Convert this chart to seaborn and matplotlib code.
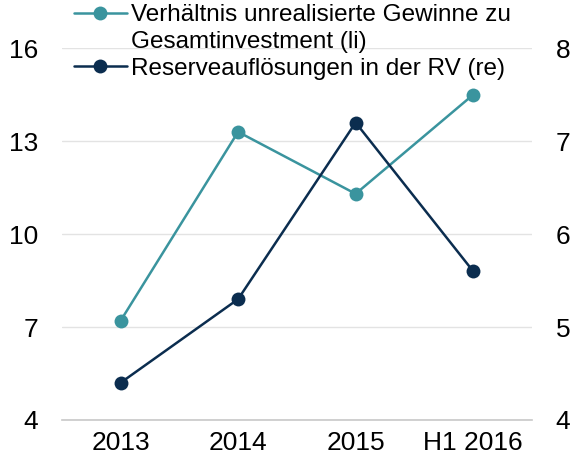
import matplotlib
matplotlib.use("Agg")
import matplotlib.pyplot as plt
from matplotlib.lines import Line2D
import seaborn as sns
import pandas as pd

categories = ["2013", "2014", "2015", "H1 2016"]
ratio_values = [7.2, 13.3, 11.3, 14.5]
reserve_values = [4.4, 5.3, 7.2, 5.6]
label_ratio_1 = "Verhältnis unrealisierte Gewinne zu"
label_ratio_2 = "Gesamtinvestment (li)"
label_reserve = "Reserveauflösungen in der RV (re)"
left_ticks = [4, 7, 10, 13, 16]
right_ticks = [4, 5, 6, 7, 8]

sns.set_theme(style="white")
plt.rcParams['font.family'] = ['Liberation Sans', 'DejaVu Sans']
plt.rcParams['text.color'] = 'black'

teal = "#3a949e"
navy = "#0b2d4f"
FS = 19
LFS = 17.5

df = pd.DataFrame({"cat": categories, "ratio": ratio_values, "reserve": reserve_values})
df["x"] = range(len(categories))

fig = plt.figure(figsize=(5.72, 4.55), dpi=100)
ax = fig.add_axes([0.108, 0.077, 0.822, 0.817])
ax2 = ax.twinx()

sns.lineplot(data=df, x="x", y="ratio", ax=ax, color=teal, marker="o",
             markersize=10, linewidth=1.8, markeredgewidth=0, legend=False)
sns.lineplot(data=df, x="x", y="reserve", ax=ax2, color=navy, marker="o",
             markersize=10, linewidth=1.8, markeredgewidth=0, legend=False)

ax.set_xlim(-0.5, 3.5)
ax.set_ylim(4, 16)
ax2.set_ylim(4, 8)
ax.set_yticks(left_ticks)
ax2.set_yticks(right_ticks)
ax.set_xticks(range(len(categories)))
ax.set_xticklabels(categories)
ax.set_xlabel("")
ax.set_ylabel("")
ax2.set_ylabel("")

for a in (ax, ax2):
    for s in a.spines.values():
        s.set_visible(False)
ax.spines["bottom"].set_visible(True)
ax.spines["bottom"].set_color("#c8c8c8")
ax.spines["bottom"].set_linewidth(1.2)

ax.yaxis.grid(True, color="#e3e3e3", linewidth=1.0)
ax.set_axisbelow(True)

ax.tick_params(axis="y", length=0, pad=17, labelsize=FS, labelcolor="black")
ax.tick_params(axis="x", length=0, pad=8, labelsize=FS, labelcolor="black")
ax2.tick_params(axis="y", length=0, pad=17, labelsize=FS, labelcolor="black")

h_ratio = Line2D([], [], color=teal, marker="o", markersize=10, linewidth=1.8, markeredgewidth=0)
h_blank = Line2D([], [], linestyle="none", marker=None)
h_res = Line2D([], [], color=navy, marker="o", markersize=10, linewidth=1.8, markeredgewidth=0)
leg = fig.legend([h_ratio, h_blank, h_res], [label_ratio_1, label_ratio_2, label_reserve],
                 loc="upper left", bbox_to_anchor=(74 / 572, 1 - 4 / 455),
                 frameon=False, fontsize=LFS, handlelength=2.18, handletextpad=0.16,
                 labelspacing=0.2, borderpad=0, borderaxespad=0)
for t in leg.get_texts():
    t.set_color("black")

fig.savefig("out.png", dpi=100)
